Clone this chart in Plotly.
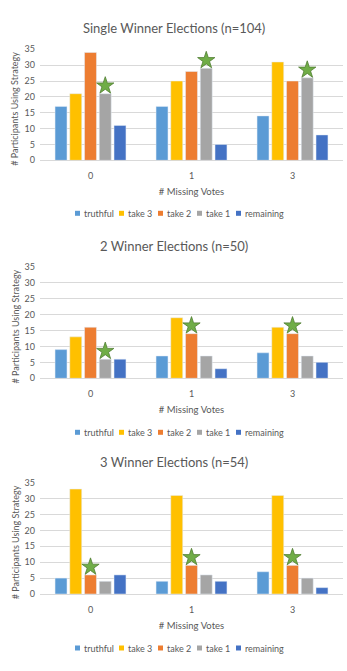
import plotly.graph_objects as go
from plotly.subplots import make_subplots

categories = ["0", "1", "3"]
series_names = ["truthful", "take 3", "take 2", "take 1", "remaining"]
series_colors = ["#5B9BD5", "#FFC000", "#ED7D31", "#A5A5A5", "#4472C4"]

# single winner elections (n=104)
single_truthful = [17, 17, 14]
single_take3 = [21, 25, 31]
single_take2 = [34, 28, 25]
single_take1 = [21, 29, 26]
single_remaining = [11, 5, 8]
single_star = ["take 1", "take 1", "take 1"]

# 2 winner elections (n=50)
two_truthful = [9, 7, 8]
two_take3 = [13, 19, 16]
two_take2 = [16, 14, 14]
two_take1 = [6, 7, 7]
two_remaining = [6, 3, 5]
two_star = ["take 1", "take 2", "take 2"]

# 3 winner elections (n=54)
three_truthful = [5, 4, 7]
three_take3 = [33, 31, 31]
three_take2 = [6, 9, 9]
three_take1 = [4, 6, 5]
three_remaining = [6, 4, 2]
three_star = ["take 2", "take 2", "take 2"]

panels = [
    ("Single Winner Elections (n=104)",
     [single_truthful, single_take3, single_take2, single_take1, single_remaining], single_star),
    ("2 Winner Elections (n=50)",
     [two_truthful, two_take3, two_take2, two_take1, two_remaining], two_star),
    ("3 Winner Elections (n=54)",
     [three_truthful, three_take3, three_take2, three_take1, three_remaining], three_star),
]

W, H = 347, 671
FONT = "Lato"
TXT = "#595959"
GRID = "#D9D9D9"
BARGAP = 0.27
STAR_PAD = 2.5

# pixel layout of each panel: 35 gridline, 0 baseline, title y, legend y
plot_px = [(49.3, 160.3, 28.3, 213.3), (266.7, 378.3, 245.7, 432.3), (482.7, 594.0, 462.0, 648.0)]
x0_px, x1_px = 40, 343
# legend key left edges (px), the labels follow each key
legend_key_px = [75, 119, 158, 197, 236]
KEY = 5
YTITLE_X = 15


def py(v):
    return 1 - v / H


fig = make_subplots(rows=3, cols=1)
xpos = list(range(len(categories)))
slot = (1 - BARGAP) / len(series_names)

for p, (title, values, stars) in enumerate(panels):
    row = p + 1
    for i, name in enumerate(series_names):
        fig.add_trace(go.Bar(x=xpos, y=values[i], name=name, marker_color=series_colors[i],
                             showlegend=False, hoverinfo="y+name"), row=row, col=1)
    sx, sy = [], []
    for c, s in enumerate(stars):
        i = series_names.index(s)
        sx.append(xpos[c] + (i - (len(series_names) - 1) / 2) * slot)
        sy.append(values[i][c] + STAR_PAD)
    fig.add_trace(go.Scatter(x=sx, y=sy, mode="markers", showlegend=False, hoverinfo="skip",
                             marker=dict(symbol="star", size=13, color="#70AD47",
                                         line=dict(color="#507E32", width=0.8))), row=row, col=1)

    top, bot, ty, ly = plot_px[p]
    ax = "" if row == 1 else str(row)
    fig.layout["xaxis" + ax].update(
        domain=[x0_px / W, x1_px / W], range=[-0.5, 2.5], tickvals=xpos, ticktext=categories,
        showgrid=False, zeroline=False, showline=False, ticks="", automargin=False,
        tickfont=dict(family=FONT, size=9, color=TXT), ticklabelstandoff=9,
        title=dict(text="# Missing Votes", font=dict(family=FONT, size=9.5, color=TXT), standoff=8),
    )
    fig.layout["yaxis" + ax].update(
        domain=[py(bot), py(top)], range=[0, 35], dtick=5, showgrid=True, gridcolor=GRID,
        gridwidth=1, zeroline=True, zerolinecolor=GRID, zerolinewidth=1, showline=False, ticks="",
        automargin=False, tickfont=dict(family=FONT, size=9, color=TXT), ticklabelstandoff=4,
    )
    fig.add_annotation(text="# Participants Using Strategy", xref="paper", yref="paper",
                       x=YTITLE_X / W, y=py((top + bot) / 2 + 4), textangle=-90,
                       xanchor="center", yanchor="middle", showarrow=False,
                       font=dict(family=FONT, size=9, color=TXT))
    fig.add_annotation(text=title, xref="paper", yref="paper", x=0.5, y=py(ty),
                       xanchor="center", yanchor="middle", showarrow=False,
                       font=dict(family=FONT, size=13, color=TXT))
    # legend row under each panel
    for i, name in enumerate(series_names):
        kx = legend_key_px[i]
        fig.add_shape(type="rect", xref="paper", yref="paper",
                      x0=kx / W, x1=(kx + KEY) / W, y0=py(ly + KEY / 2), y1=py(ly - KEY / 2),
                      fillcolor=series_colors[i], line_width=0)
        fig.add_annotation(text=name, xref="paper", yref="paper", x=(kx + KEY + 1.5) / W,
                           y=py(ly), xanchor="left", yanchor="middle", showarrow=False,
                           font=dict(family=FONT, size=9, color=TXT))

fig.update_layout(
    width=W, height=H, margin=dict(l=0, r=0, t=0, b=0, autoexpand=False),
    paper_bgcolor="white", plot_bgcolor="white", showlegend=False,
    barmode="group", bargap=BARGAP, bargroupgap=0.19,
    font=dict(family=FONT, color=TXT),
)

# the page's default body margin would push the figure off by 8px
fig.write_html("out.html", config={"displayModeBar": False},
               post_script="document.body.style.margin='0';")
